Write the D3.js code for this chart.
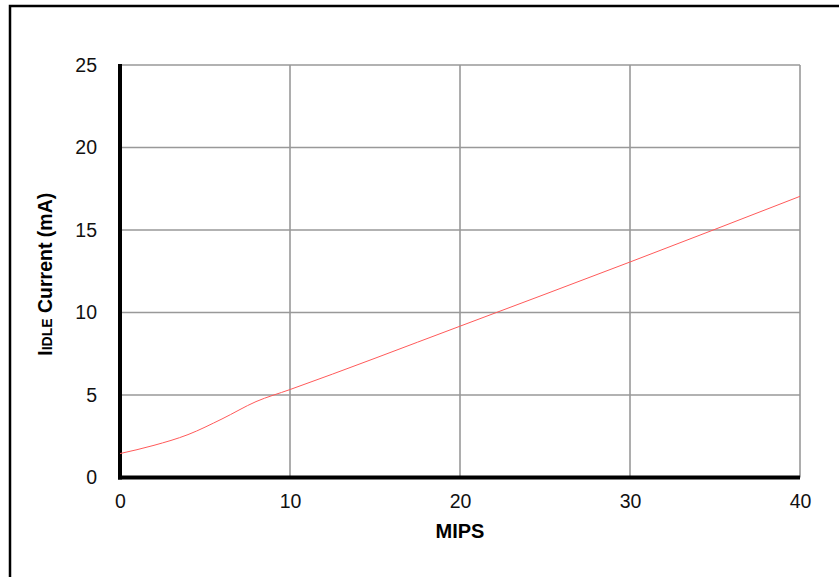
<!DOCTYPE html>
<meta charset="utf-8">
<style>
body { margin: 0; background: #fff; }
svg { font-family: Arial, "Liberation Sans", sans-serif; }
.grid line { stroke: #999; stroke-width: 1.6px; }
.tick text { font-size: 19.5px; fill: #111; }
</style>
<svg width="839" height="577"></svg>
<script src="https://cdn.jsdelivr.net/npm/d3@7"></script>
<script>

var mips = [0, 2, 4, 6, 8, 10, 20, 30, 40];
var idle = [1.45, 1.95, 2.6, 3.55, 4.6, 5.33, 9.17, 13.06, 17.04];
var xTicks = [0, 10, 20, 30, 40];
var yTicks = [0, 5, 10, 15, 20, 25];

var svg = d3.select("svg");
var pLeft = 120, pRight = 800, pTop = 65, pBottom = 477.5;

var x = d3.scaleLinear().domain([0, 40]).range([pLeft, pRight]);
var y = d3.scaleLinear().domain([0, 25]).range([pBottom, pTop]);

// outer frame (top and left edges only)
svg.append("path")
    .attr("d", "M10,577V6H839")
    .attr("fill", "none")
    .attr("stroke", "#000")
    .attr("stroke-width", 2.5);

// grid
var grid = svg.append("g").attr("class", "grid");
grid.selectAll(".v").data(xTicks.slice(1)).enter().append("line")
    .attr("x1", d => x(d)).attr("x2", d => x(d))
    .attr("y1", pTop).attr("y2", pBottom);
grid.selectAll(".h").data(yTicks.slice(1)).enter().append("line")
    .attr("x1", pLeft).attr("x2", pRight)
    .attr("y1", d => y(d)).attr("y2", d => y(d));

// axes
var xAxis = svg.append("g")
    .attr("transform", "translate(0," + pBottom + ")")
    .call(d3.axisBottom(x).tickValues(xTicks).tickSize(0).tickPadding(17));
xAxis.select(".domain").remove();

var yAxis = svg.append("g")
    .attr("transform", "translate(" + pLeft + ",0)")
    .call(d3.axisLeft(y).tickValues(yTicks).tickSize(0).tickPadding(23));
yAxis.select(".domain").remove();

svg.append("line")
    .attr("x1", pLeft).attr("x2", pLeft)
    .attr("y1", pTop - 1).attr("y2", pBottom + 2)
    .attr("stroke", "#000").attr("stroke-width", 4);
svg.append("line")
    .attr("x1", pLeft - 2).attr("x2", pRight)
    .attr("y1", pBottom).attr("y2", pBottom)
    .attr("stroke", "#000").attr("stroke-width", 4);

// curve
var line = d3.line()
    .x(function(d, i) { return x(mips[i]); })
    .y(function(d) { return y(d); })
    .curve(d3.curveMonotoneX);

svg.append("path")
    .datum(idle)
    .attr("d", line)
    .attr("fill", "none")
    .attr("stroke", "#ff5a5a")
    .attr("stroke-width", 1);

// labels
svg.append("text")
    .attr("x", (pLeft + pRight) / 2)
    .attr("y", 538)
    .attr("text-anchor", "middle")
    .attr("font-weight", "bold")
    .attr("font-size", 20)
    .text("MIPS");

var yl = svg.append("text")
    .attr("transform", "translate(52," + ((pTop + pBottom) / 2 + 3) + ") rotate(-90)")
    .attr("text-anchor", "middle")
    .attr("font-weight", "bold")
    .attr("font-size", 19.5);
yl.append("tspan").text("I");
yl.append("tspan").attr("font-size", 14).text("IDLE");
yl.append("tspan").text(" Current (mA)");

</script>
